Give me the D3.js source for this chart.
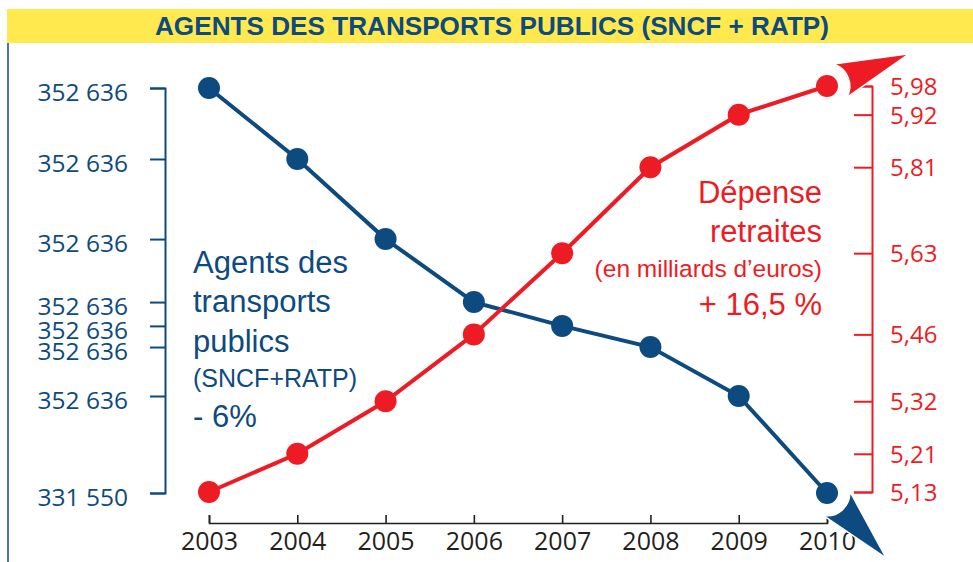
<!DOCTYPE html>
<html>
<head>
<meta charset="utf-8">
<script src="https://cdnjs.cloudflare.com/ajax/libs/d3/7.8.5/d3.min.js"></script>
<style>
  body { margin:0; background:white; }
  svg { display:block; }
</style>
</head>
<body>
<svg id="chart"></svg>
<script>
var years = [2003, 2004, 2005, 2006, 2007, 2008, 2009, 2010]
// effectifs SNCF + RATP
var agents = [352636, 348940, 344770, 341490, 340250, 339150, 336600, 331550]
var agentsLabels = ['352 636','352 636','352 636','352 636','352 636','352 636','352 636','331 550']
// dépense retraites, milliards d'euros
var depense = [5.13, 5.21, 5.32, 5.46, 5.63, 5.81, 5.92, 5.98]

var title = 'AGENTS DES TRANSPORTS PUBLICS (SNCF + RATP)'
var agentsText = ['Agents des', 'transports', 'publics', '(SNCF+RATP)', '- 6%']
var depenseText = ['Dépense', 'retraites', '(en milliards d\u2019euros)', '+ 16,5 %']

var width = 973, height = 562
var blue = '#0d4a80', red = '#ed1c24', yellow = '#ffe94e', dark = '#231f20'
var numFont = '"Open Sans", "Noto Sans", sans-serif'
var txtFont = '"Liberation Sans", Arial, sans-serif'

var svg = d3.select('#chart').attr('width', width).attr('height', height)

// title band
svg.append('rect')
  .attr('x', 7).attr('y', 9)
  .attr('width', width - 7).attr('height', 34)
  .attr('fill', yellow)
svg.append('text')
  .attr('x', 492).attr('y', 35)
  .attr('text-anchor', 'middle')
  .attr('font-family', '"Liberation Sans Narrow", "Liberation Sans", Arial, sans-serif')
  .attr('font-weight', 'bold')
  .attr('font-size', 26)
  .attr('textLength', 674)
  .attr('lengthAdjust', 'spacingAndGlyphs')
  .attr('fill', blue)
  .text(title)

svg.append('line')
  .attr('x1', 8).attr('x2', 8).attr('y1', 43).attr('y2', height)
  .attr('stroke', blue).attr('stroke-width', 1.5)

// scales
var x = d3.scaleLinear().domain([2003, 2010]).range([209, 827])
var yL = d3.scaleLinear().domain([331550, 352636]).range([493, 88])
var yR = d3.scaleLinear().domain([5.13, 5.98]).range([492, 86])

// axes
var xAxis = svg.append('g')
  .attr('transform', 'translate(0,523)')
  .call(d3.axisBottom(x).tickValues(years).tickFormat(d3.format('d'))
        .tickSizeInner(-8).tickSizeOuter(-8).tickPadding(9))
xAxis.selectAll('path, line').attr('stroke', dark).attr('stroke-width', 1.6)
xAxis.selectAll('text')
  .attr('fill', dark).attr('font-family', numFont).attr('font-size', 25)
  .attr('dy', '0.71em')

var leftAxis = svg.append('g')
  .attr('transform', 'translate(165,0)')
  .call(d3.axisLeft(yL).tickValues(agents).tickFormat(function(d,i){return agentsLabels[i]})
        .tickSizeInner(15).tickSizeOuter(15).tickPadding(22))
leftAxis.selectAll('path, line').attr('stroke', blue).attr('stroke-width', 2)
leftAxis.selectAll('text')
  .attr('fill', blue).attr('font-family', numFont).attr('font-size', 24.5)
  .attr('dy', '0.5em')

var rightAxis = svg.append('g')
  .attr('transform', 'translate(872,0)')
  .call(d3.axisRight(yR).tickValues(depense).tickFormat(function(d){return d3.format('.2f')(d).replace('.', ',')})
        .tickSizeInner(-18).tickSizeOuter(-18).tickPadding(18))
rightAxis.selectAll('path, line').attr('stroke', red).attr('stroke-width', 2)
rightAxis.selectAll('text')
  .attr('fill', red).attr('font-family', numFont).attr('font-size', 24)
  .attr('dy', '0.35em')

// series
function drawSeries(values, y, color){
  var pts = values.map(function(v,i){return {x: x(years[i]), y: y(v)}})
  svg.append('path')
    .datum(pts)
    .attr('fill', 'none')
    .attr('stroke', color)
    .attr('stroke-width', 4)
    .attr('d', d3.line().x(function(d){return d.x}).y(function(d){return d.y}))
  svg.append('g').selectAll('circle').data(pts)
    .enter().append('circle')
    .attr('cx', function(d){return d.x})
    .attr('cy', function(d){return d.y})
    .attr('r', 11)
    .attr('fill', color)
  return pts
}

// arrow head continuing the last segment, hollowed around the last point
function arrowHead(pts, color, tilt){
  var p0 = pts[pts.length-2], p1 = pts[pts.length-1]
  var a = Math.atan2(p1.y-p0.y, p1.x-p0.x) + tilt
  var ux = Math.cos(a), uy = Math.sin(a), vx = -uy, vy = ux
  var L = 88, back = 14, half = 18, r = Math.sqrt(back*back + half*half)
  var tip = [p1.x + L*ux, p1.y + L*uy]
  var c1 = [p1.x + back*ux + half*vx, p1.y + back*uy + half*vy]
  var c2 = [p1.x + back*ux - half*vx, p1.y + back*uy - half*vy]
  svg.append('path')
    .attr('d', 'M' + c1 + 'L' + tip + 'L' + c2 + 'A' + r + ',' + r + ' 0 0 1 ' + c1 + 'Z')
    .attr('fill', color)
    .attr('stroke', 'white')
    .attr('stroke-width', 1.5)
}

var bluePts = drawSeries(agents, yL, blue)
var redPts = drawSeries(depense, yR, red)
arrowHead(bluePts, blue, 0)
arrowHead(redPts, red, -0.06)

// annotations
var sizesA = [31, 31, 31, 25, 31]
var baseA = [273, 312, 352, 387, 427]
svg.append('g').selectAll('text').data(agentsText)
  .enter().append('text')
  .attr('x', 193)
  .attr('y', function(d,i){return baseA[i]})
  .attr('font-family', txtFont)
  .attr('font-size', function(d,i){return sizesA[i]})
  .attr('fill', blue)
  .text(function(d){return d})

var sizesD = [31, 31, 24.5, 31]
var baseD = [203, 242, 277, 315]
svg.append('g').selectAll('text').data(depenseText)
  .enter().append('text')
  .attr('x', 822)
  .attr('y', function(d,i){return baseD[i]})
  .attr('text-anchor', 'end')
  .attr('font-family', txtFont)
  .attr('font-size', function(d,i){return sizesD[i]})
  .attr('fill', red)
  .text(function(d){return d})
</script>
</body>
</html>
